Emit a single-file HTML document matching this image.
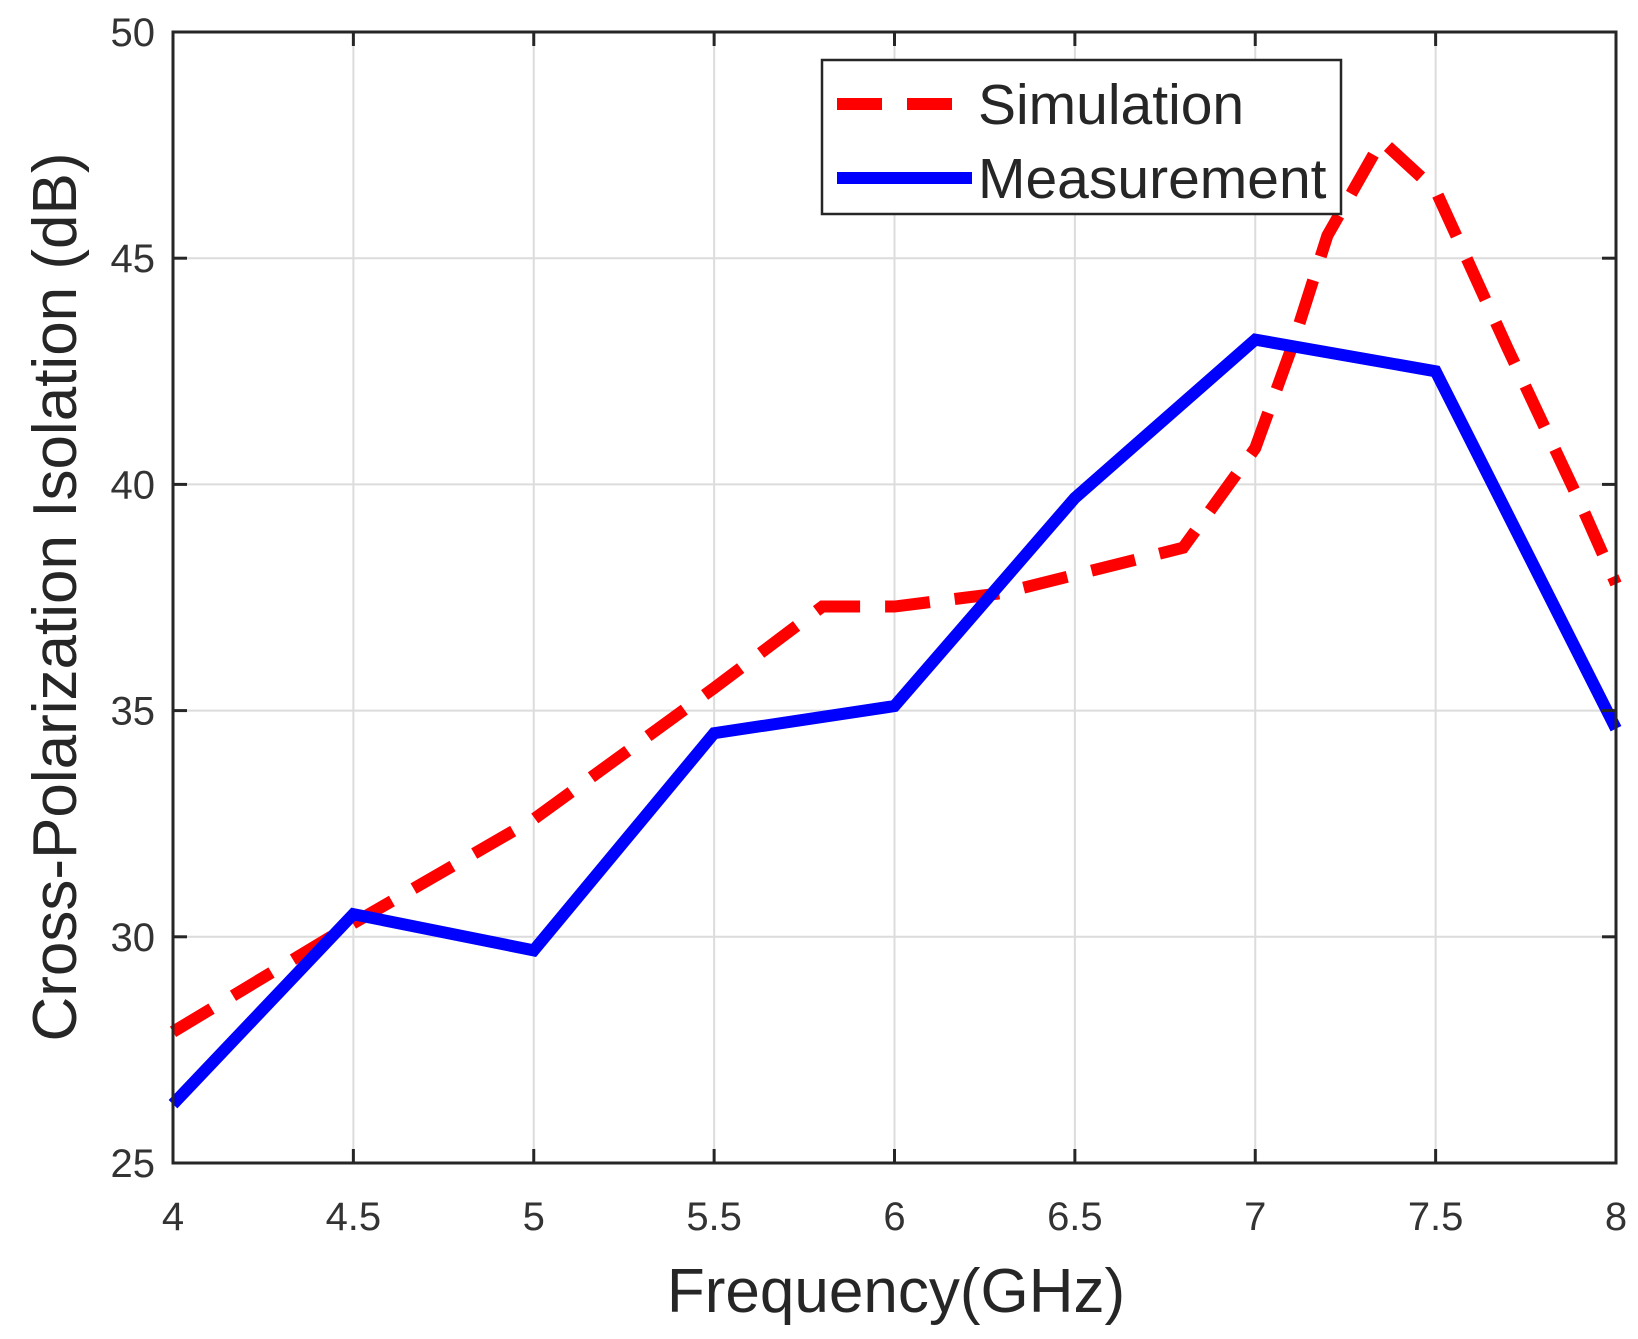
<!DOCTYPE html>
<html><head><meta charset="utf-8"><style>
html,body{margin:0;padding:0;background:#fff;}
svg{display:block;font-family:"Liberation Sans",Arial,sans-serif;}
</style></head><body>
<svg id="chart" width="1638" height="1339" viewBox="0 0 1638 1339" xmlns="http://www.w3.org/2000/svg">
<g id="grid"></g>
<g id="series"></g>
<rect x="173" y="32" width="1443" height="1131" fill="none" stroke="#262626" stroke-width="3"/>
<g id="ticks"></g>
<text x="896" y="1312" font-size="62" fill="#262626" text-anchor="middle">Frequency(GHz)</text>
<text transform="translate(76,597) rotate(-90)" font-size="62" fill="#262626" text-anchor="middle">Cross-Polarization Isolation (dB)</text>
<g>
<rect x="822" y="60" width="519" height="154" fill="#fff" stroke="#262626" stroke-width="2.5"/>
<line x1="837" y1="104" x2="972" y2="104" stroke="#ff0000" stroke-width="12" stroke-dasharray="45,25"/>
<text x="978" y="124" font-size="57" fill="#262626">Simulation</text>
<line x1="837" y1="178" x2="972" y2="178" stroke="#0000ff" stroke-width="12"/>
<text x="978" y="198" font-size="57" fill="#262626">Measurement</text>
</g>
</svg>
<script>
const xTicks = [4, 4.5, 5, 5.5, 6, 6.5, 7, 7.5, 8];
const xTickLabels = ["4", "4.5", "5", "5.5", "6", "6.5", "7", "7.5", "8"];
const yTicks = [25, 30, 35, 40, 45, 50];
const yTickLabels = ["25", "30", "35", "40", "45", "50"];
const measFreq = [4, 4.5, 5, 5.5, 6, 6.5, 7, 7.5, 8];
const measValues = [26.3, 30.5, 29.7, 34.5, 35.1, 39.7, 43.2, 42.5, 34.6];
const simFreq = [4, 4.5, 5, 5.5, 5.8, 6, 6.3, 6.5, 6.8, 7, 7.1, 7.2, 7.35, 7.5, 7.7, 7.9, 8];
const simValues = [27.9, 30.3, 32.6, 35.5, 37.3, 37.3, 37.6, 38.0, 38.6, 40.8, 43.0, 45.5, 47.6, 46.5, 43.0, 39.6, 37.8];

const L = 173, R = 1616, T = 32, B = 1163;
const xS = v => L + (v - 4) / 4 * (R - L);
const yS = v => B - (v - 25) / 25 * (B - T);
const NS = "http://www.w3.org/2000/svg";
const grid = document.getElementById('grid');
const ticks = document.getElementById('ticks');
const series = document.getElementById('series');
function mk(tag, attrs, parent) {
  const e = document.createElementNS(NS, tag);
  for (const k in attrs) e.setAttribute(k, attrs[k]);
  parent.appendChild(e);
  return e;
}
xTicks.forEach((v, i) => {
  const x = xS(v);
  const g = mk('line', {x1: x, x2: x, y1: T, y2: B, stroke: '#dcdcdc', 'stroke-width': 2}, grid);
  
  
  const t1 = mk('line', {x1: x, x2: x, y1: B, y2: B - 14, stroke: '#262626', 'stroke-width': 3}, ticks);
  
  
  const t2 = mk('line', {x1: x, x2: x, y1: T, y2: T + 14, stroke: '#262626', 'stroke-width': 3}, ticks);
  
  
  const tx = mk('text', {x: x, y: 1230, 'font-size': 40, fill: '#333', 'text-anchor': 'middle'}, ticks);
  tx.textContent = xTickLabels[i];
  
  
});
yTicks.forEach((v, i) => {
  const y = yS(v);
  const g = mk('line', {x1: L, x2: R, y1: y, y2: y, stroke: '#dcdcdc', 'stroke-width': 2}, grid);
  
  
  const t1 = mk('line', {x1: L, x2: L + 14, y1: y, y2: y, stroke: '#262626', 'stroke-width': 3}, ticks);
  
  
  const t2 = mk('line', {x1: R, x2: R - 14, y1: y, y2: y, stroke: '#262626', 'stroke-width': 3}, ticks);
  
  
  const tx = mk('text', {x: 155, y: y + 14, 'font-size': 40, fill: '#333', 'text-anchor': 'end'}, ticks);
  tx.textContent = yTickLabels[i];
  
  
});
const simPts = simFreq.map((f, i) => xS(f) + ',' + yS(simValues[i])).join(' ');
const sim = mk('polyline', {points: simPts, fill: 'none', stroke: '#ff0000', 'stroke-width': 12, 'stroke-dasharray': '45,25', 'stroke-linejoin': 'miter'}, series);


const measPts = measFreq.map((f, i) => xS(f) + ',' + yS(measValues[i])).join(' ');
const meas = mk('polyline', {points: measPts, fill: 'none', stroke: '#0000ff', 'stroke-width': 12, 'stroke-linejoin': 'miter'}, series);


</script>
</body></html>
